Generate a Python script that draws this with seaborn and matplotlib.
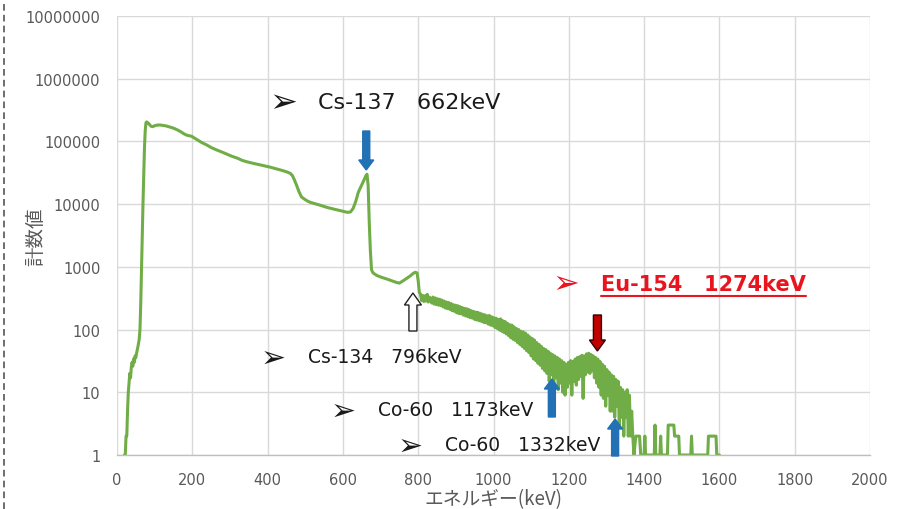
import matplotlib
matplotlib.use("Agg")
import matplotlib.pyplot as plt
import numpy as np
import pandas as pd
import seaborn as sns
from matplotlib.patches import FancyArrow
from matplotlib.transforms import IdentityTransform
from matplotlib.lines import Line2D

# ---------------- data ----------------
energy_rise = [20, 22, 24, 26, 28, 30, 32, 34, 36, 38, 40, 42, 44, 46, 48, 50, 53, 56, 59, 61,
               63, 65, 67, 69, 71, 73, 75, 77, 79]
counts_rise = [1, 1, 2, 2, 5, 10, 14, 20, 17, 25, 30, 26, 34, 30, 38, 36, 45, 55, 70, 100,
               250, 900, 3000, 10000, 30000, 80000, 150000, 200000, 205000]

energy_compton = [80, 85, 90, 95, 100, 107, 114, 122, 130, 140, 150, 160, 170, 178, 185, 192, 198,
                  205, 215, 225, 238, 250, 265, 278, 291, 305, 320, 332, 344, 360, 375, 390, 406,
                  420, 432, 442, 452, 460, 466, 471, 477, 483, 490, 498, 506, 513, 525, 540, 557,
                  570, 585, 600, 612, 620, 627, 634, 641, 648, 655, 661, 664, 667, 670, 673, 676,
                  680, 690, 700, 710, 720, 730, 740, 750, 760, 770, 778, 786, 792, 797, 800, 803]
counts_compton = [202000, 190000, 175000, 172000, 178000, 182000, 183000, 180000, 177000, 170000,
                  163000, 153000, 142000, 132000, 126000, 123000, 121000, 114000, 105000, 96000,
                  88000, 80000, 73000, 68000, 63000, 58000, 54000, 50000, 47500, 45000, 43000,
                  41000, 39000, 37000, 35500, 34000, 32500, 31000, 28500, 24500, 20000, 16000,
                  13000, 12000, 11200, 10700, 10200, 9600, 8900, 8500, 8100, 7700, 7400, 7500,
                  8500, 11000, 15500, 19000, 23500, 28400, 30000, 20000, 5100, 1800, 900, 800,
                  730, 690, 660, 630, 600, 570, 550, 600, 660, 710, 780, 820, 800, 600, 390]

energy_high = [
    806, 809, 812, 815, 818, 821, 824, 827, 830, 833,
    836, 839, 842, 845, 848, 851, 854, 857, 860, 863,
    866, 869, 872, 875, 878, 881, 884, 887, 890, 893,
    896, 899, 902, 905, 908, 911, 914, 917, 920, 923,
    926, 929, 932, 935, 938, 941, 944, 947, 950, 953,
    956, 959, 962, 965, 968, 971, 974, 977, 980, 983,
    986, 989, 992, 995, 998, 1001, 1004, 1007, 1010, 1013,
    1016, 1019, 1022, 1025, 1028, 1031, 1034, 1037, 1040, 1043,
    1046, 1049, 1052, 1055, 1058, 1061, 1064, 1067, 1070, 1073,
    1076, 1079, 1082, 1085, 1088, 1091, 1094, 1097, 1100, 1103,
    1106, 1109, 1112, 1115, 1118, 1121, 1124, 1127, 1130, 1133,
    1136, 1139, 1142, 1145, 1148, 1151, 1154, 1157, 1160, 1163,
    1166, 1169, 1172, 1175, 1178, 1181, 1184, 1187, 1190, 1193,
    1196, 1199, 1202, 1205, 1208, 1211, 1214, 1217, 1220, 1223,
    1226, 1229, 1232, 1235, 1238, 1241, 1244, 1247, 1250, 1253,
    1256, 1259, 1262, 1265, 1268, 1271, 1274, 1277, 1280, 1283,
    1286, 1289, 1292, 1295, 1298, 1301, 1304, 1307, 1310, 1313,
    1316, 1319, 1322, 1325, 1328, 1331, 1334, 1337, 1340, 1343,
    1346, 1349, 1352, 1355, 1358, 1361, 1364, 1367, 1370, 1373,
]
counts_high = [
    370, 290, 350, 280, 345, 285, 365, 275, 330, 290,
    265, 330, 255, 320, 250, 310, 245, 305, 240, 295,
    230, 285, 220, 275, 215, 270, 210, 260, 200, 250,
    195, 245, 185, 240, 180, 232, 178, 225, 170, 218,
    165, 215, 160, 208, 155, 200, 152, 195, 145, 190,
    142, 188, 138, 182, 135, 176, 130, 172, 128, 166,
    122, 168, 118, 160, 115, 155, 108, 152, 104, 145,
    98, 148, 94, 138, 90, 134, 85, 126, 80, 120,
    74, 118, 70, 110, 67, 104, 62, 100, 58, 94,
    54, 92, 50, 88, 46, 82, 43, 76, 38, 72,
    34, 68, 32, 62, 29, 58, 27, 54, 24, 50,
    22, 48, 20, 45, 15, 42, 19, 40, 13, 38,
    17, 36, 11, 34, 14, 32, 10, 30, 9, 28,
    12, 30, 14, 32, 9, 31, 15, 34, 13, 36,
    16, 37, 18, 39, 8, 38, 19, 41, 21, 42,
    20, 40, 22, 38, 17, 36, 14, 34, 12, 31,
    9, 28, 8, 26, 6, 23, 9, 21, 5, 19,
    5, 18, 4, 16, 6, 15, 3, 12, 4, 11,
    2, 10, 4, 11, 2, 9, 2, 5, 2, 1,
]

energy_tail = [1378, 1388, 1391, 1400, 1402, 1404, 1427, 1429, 1431, 1442, 1444, 1446, 1462,
               1464, 1479, 1481, 1492, 1494, 1524, 1526, 1528, 1569, 1571, 1591, 1593, 1600]
counts_tail = [2, 2, 1, 1, 2, 1, 1, 3, 1, 1, 2, 1, 1,
               3, 3, 2, 2, 1, 1, 2, 1, 1, 2, 2, 1, 1]

x_ticks = [0, 200, 400, 600, 800, 1000, 1200, 1400, 1600, 1800, 2000]
y_ticks = [1, 10, 100, 1000, 10000, 100000, 1000000, 10000000]
y_tick_labels = ["1", "10", "100", "1000", "10000", "100000", "1000000", "10000000"]

x_title = "エネルギー(keV)"
y_title = "計数値"

peak_names = ["Cs-137   662keV", "Cs-134   796keV", "Co-60   1173keV", "Co-60   1332keV",
              "Eu-154   1274keV"]
arrow_energy = [662, 786, 1155, 1323, 1276]

# ---------------- figure ----------------
W, H = 897, 510
sns.set_theme(style="white")
plt.rcParams["font.family"] = ["DejaVu Sans", "Noto Sans CJK JP"]

fig = plt.figure(figsize=(W / 100, H / 100), dpi=100)
fig.patch.set_facecolor("white")
ax = fig.add_axes([117 / W, 1 - 456 / H, 753 / W, 439 / H])

df = pd.DataFrame({
    "energy": energy_rise + energy_compton + energy_high + energy_tail,
    "counts": counts_rise + counts_compton + counts_high + counts_tail,
})
sns.lineplot(data=df, x="energy", y="counts", ax=ax, color="#70AD47", linewidth=2.2,
             estimator=None, sort=False, legend=False)

ax.set_yscale("log")
ax.set_xlim(0, 2000)
ax.set_ylim(1, 1e7)
ax.set_xticks(x_ticks)
ax.set_xticklabels([str(v) for v in x_ticks])
ax.set_yticks(y_ticks)
ax.set_yticklabels(y_tick_labels)
ax.minorticks_off()
ax.grid(True, color="#D9D9D9", linewidth=1.0)
ax.set_axisbelow(True)
for s in ["top", "right", "left"]:
    ax.spines[s].set_visible(False)
ax.spines["bottom"].set_color("#BFBFBF")
ax.spines["bottom"].set_linewidth(1.0)
ax.tick_params(axis="both", length=0, labelsize=10.5, labelcolor="#595959")
ax.tick_params(axis="y", pad=12)
ax.tick_params(axis="x", pad=12)

ax.set_xlabel(x_title, fontsize=13.5, color="#595959", family=["Noto Sans CJK JP"], labelpad=1)
ax.set_ylabel(y_title, fontsize=14, color="#595959", family=["Noto Sans CJK JP"])
ax.yaxis.set_label_coords(-0.094, 0.5)


def fx(px):
    return px / W


def fy(py):
    return 1 - py / H


# ---------------- annotations ----------------
sym = "\u27a2"
label_layout = [
    # symbol x, text x, center y, fontsize, color, weight
    (283, 318, 103, 16, "#1a1a1a", "normal"),
    (273, 308, 358, 13.5, "#1a1a1a", "normal"),
    (343, 378, 411, 13.5, "#1a1a1a", "normal"),
    (410, 445, 446, 13.5, "#1a1a1a", "normal"),
    (566, 601, 285, 15, "#E8141E", "bold"),
]
texts = []
for name, (sx, tx, cy, fs, col, wt) in zip(peak_names, label_layout):
    fig.text(fx(sx), fy(cy), sym, ha="center", va="center", fontsize=fs + 8, color=col,
             fontweight="bold", family=["DejaVu Sans"])
    t = fig.text(fx(tx), fy(cy), name, ha="left", va="center", fontsize=fs, color=col,
                 fontweight=wt, family=["DejaVu Sans"])
    texts.append(t)

# arrows: tail y, tip y (pixels from top), face, edge, width, head width, head length
arrow_layout = [
    (132, 171, "#2271B5", "#2271B5", 7, 15, 10),
    (332, 294, "white", "#222222", 8, 17, 12),
    (418, 380, "#2271B5", "#2271B5", 7, 15, 10),
    (457, 420, "#2271B5", "#2271B5", 7, 15, 10),
    (316, 352, "#C00000", "#3a0000", 8, 16, 11),
]
for e, (ty, py, fc, ec, w, hw, hl) in zip(arrow_energy, arrow_layout):
    xd = ax.transData.transform((e, 1))[0]
    arr = FancyArrow(xd, H - ty, 0, (H - py) - (H - ty), width=w, head_width=hw,
                     head_length=hl, length_includes_head=True, facecolor=fc, edgecolor=ec,
                     linewidth=1.0, transform=IdentityTransform(), zorder=5)
    fig.add_artist(arr)

# underline for Eu-154 label
fig.canvas.draw()
bb = texts[-1].get_window_extent()
fig.add_artist(Line2D([bb.x0, bb.x1], [H - 297, H - 297], color="#E8141E", linewidth=1.5,
                      transform=IdentityTransform()))

# dashed border at the far left of the screenshot
fig.add_artist(Line2D([fx(4), fx(4)], [0, 1], color="#555555", linewidth=1.2,
                      linestyle=(0, (4, 2.5)), transform=fig.transFigure))

fig.savefig("out.png", dpi=100)
